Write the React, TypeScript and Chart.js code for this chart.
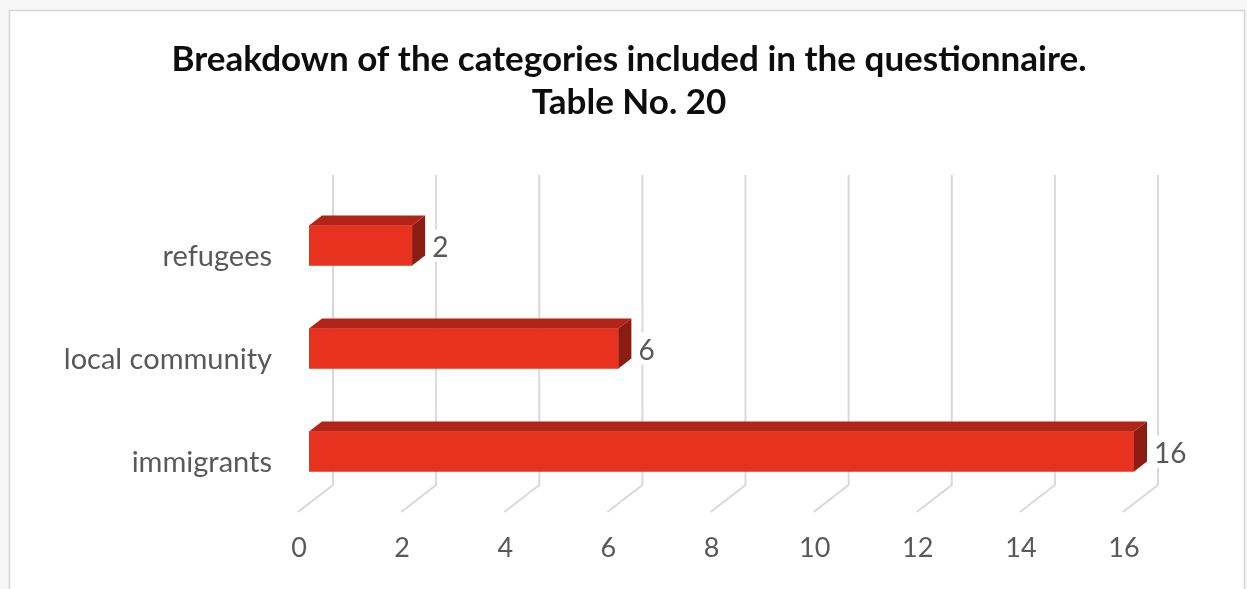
import React, { useEffect, useRef } from 'react';
import { Chart, registerables } from 'chart.js';

Chart.register(...registerables);

const titleLines = ['Breakdown of the categories included in the questionnaire.', 'Table No. 20'];
const categories = ['refugees', 'local community', 'immigrants'];
const counts = [2, 6, 16];
const axisMin = 0;
const axisMax = 16;
const axisStep = 2;

const FONT = 'Lato, "Open Sans", sans-serif';
const FRONT = '#E6321F';
const TOP = '#B12417';
const SIDE = '#8B1C11';
const TEXT = '#595959';
const GRID = '#D9D9D9';
const DEPTH_X = 13;
const DEPTH_Y = 10;
const BACK_SHIFT = 24;

const framePlugin = {
  id: 'frame',
  beforeDraw(chart: any) {
    const { ctx, width, height } = chart;
    ctx.save();
    ctx.fillStyle = '#F7F7F7';
    ctx.fillRect(0, 0, width, height);
    ctx.fillStyle = '#FFFFFF';
    ctx.fillRect(9, 10, width - 11, height);
    ctx.strokeStyle = '#D4D4D4';
    ctx.lineWidth = 1.5;
    ctx.beginPath();
    ctx.moveTo(9.5, height);
    ctx.lineTo(9.5, 10.5);
    ctx.lineTo(width - 2.5, 10.5);
    ctx.lineTo(width - 2.5, height);
    ctx.stroke();
    ctx.restore();
  },
};

const gridPlugin = {
  id: 'grid3d',
  beforeDatasetsDraw(chart: any) {
    const { ctx, chartArea } = chart;
    const x = chart.scales.x;
    const top = chartArea.top - 19;
    const floor = chartArea.bottom - 18;
    ctx.save();
    ctx.strokeStyle = GRID;
    ctx.lineWidth = 2;
    x.ticks.forEach((t: any) => {
      const px = x.getPixelForValue(t.value) + BACK_SHIFT;
      ctx.beginPath();
      ctx.moveTo(px, top);
      ctx.lineTo(px, floor);
      ctx.lineTo(px - 35, floor + 27);
      ctx.stroke();
    });
    ctx.restore();
  },
};

const barsPlugin = {
  id: 'bars3d',
  afterDatasetsDraw(chart: any) {
    const { ctx } = chart;
    const meta = chart.getDatasetMeta(0);
    ctx.save();
    meta.data.forEach((el: any, i: number) => {
      const x0 = el.base;
      const x1 = el.x;
      const yT = el.y - el.height / 2;
      const yB = el.y + el.height / 2;
      ctx.fillStyle = TOP;
      ctx.beginPath();
      ctx.moveTo(x0, yT);
      ctx.lineTo(x0 + DEPTH_X, yT - DEPTH_Y);
      ctx.lineTo(x1 + DEPTH_X, yT - DEPTH_Y);
      ctx.lineTo(x1, yT);
      ctx.closePath();
      ctx.fill();
      ctx.fillStyle = SIDE;
      ctx.beginPath();
      ctx.moveTo(x1, yT);
      ctx.lineTo(x1 + DEPTH_X, yT - DEPTH_Y);
      ctx.lineTo(x1 + DEPTH_X, yB - DEPTH_Y);
      ctx.lineTo(x1, yB);
      ctx.closePath();
      ctx.fill();
      const text = String(counts[i]);
      ctx.font = `28px ${FONT}`;
      const w = ctx.measureText(text).width;
      const lx = x1 + 20;
      ctx.fillStyle = '#FFFFFF';
      ctx.fillRect(lx - 4, el.y - 16, w + 8, 32);
      ctx.fillStyle = TEXT;
      ctx.textAlign = 'left';
      ctx.textBaseline = 'middle';
      ctx.fillText(text, lx, el.y + 2);
    });
    ctx.restore();
  },
};

const titlePlugin = {
  id: 'title2',
  afterDraw(chart: any) {
    const { ctx } = chart;
    ctx.save();
    ctx.fillStyle = '#0D0D0D';
    ctx.textAlign = 'center';
    ctx.textBaseline = 'middle';
    ctx.font = `bold 35px ${FONT}`;
    ctx.fillText(titleLines[0], 629, 60);
    ctx.fillText(titleLines[1], 629, 103);
    ctx.restore();
  },
};

export default function App() {
  const ref = useRef<HTMLCanvasElement | null>(null);
  useEffect(() => {
    document.body.style.margin = '0';
    const canvas = ref.current!;
    const chart = new Chart(canvas, {
      type: 'bar',
      data: {
        labels: categories,
        datasets: [
          {
            data: counts,
            backgroundColor: FRONT,
            borderWidth: 0,
            barThickness: 40,
          },
        ],
      },
      options: {
        indexAxis: 'y',
        responsive: false,
        animation: false,
        devicePixelRatio: 1,
        layout: { padding: { top: 194, right: 113, left: 0, bottom: 0 } },
        plugins: {
          legend: { display: false },
          title: { display: false },
          tooltip: { enabled: false },
        },
        scales: {
          x: {
            min: axisMin,
            max: axisMax,
            border: { display: false },
            grid: { display: false, drawTicks: false },
            ticks: {
              stepSize: axisStep,
              color: TEXT,
              font: { family: FONT, size: 27 },
              padding: 29,
              labelOffset: -10,
            },
            afterFit: (s: any) => {
              s.height = 86;
            },
          },
          y: {
            border: { display: false },
            grid: { display: false, drawTicks: false },
            ticks: {
              color: TEXT,
              font: { family: FONT, size: 29 },
              padding: 37,
              labelOffset: 11,
            },
            afterFit: (s: any) => {
              s.width = 309;
            },
          },
        },
      },
      plugins: [framePlugin, gridPlugin, barsPlugin, titlePlugin],
    });
    return () => chart.destroy();
  }, []);
  return <canvas ref={ref} width={1247} height={589} style={{ display: 'block' }} />;
}
